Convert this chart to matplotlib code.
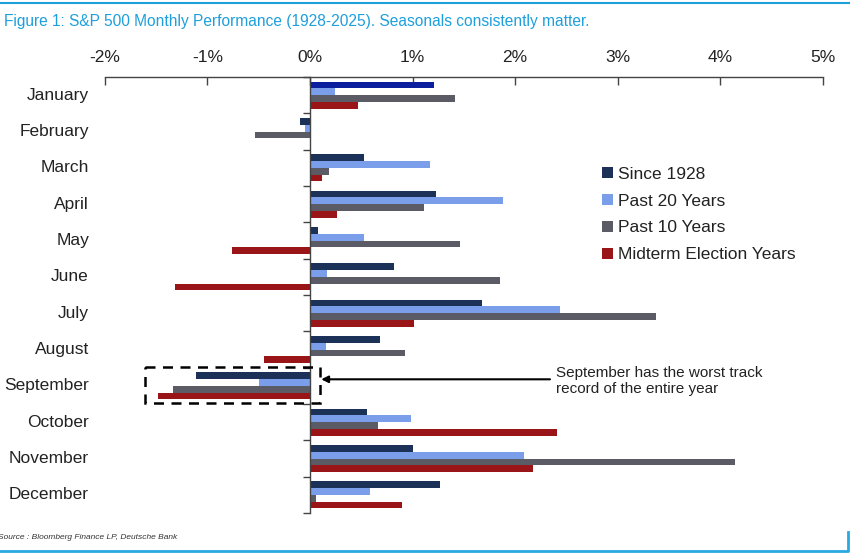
import matplotlib
matplotlib.use("Agg")
import matplotlib.pyplot as plt
import numpy as np
from matplotlib.patches import Rectangle, Patch
from matplotlib.lines import Line2D

plt.rcParams['font.family'] = ['Liberation Sans', 'DejaVu Sans']

months = ["January", "February", "March", "April", "May", "June", "July",
          "August", "September", "October", "November", "December"]
since_1928 = [1.21, -0.10, 0.53, 1.23, 0.08, 0.82, 1.68, 0.68, -1.11, 0.56, 1.00, 1.27]
past_20 = [0.24, -0.05, 1.17, 1.88, 0.53, 0.165, 2.44, 0.16, -0.50, 0.99, 2.09, 0.59]
past_10 = [1.41, -0.54, 0.19, 1.11, 1.46, 1.85, 3.37, 0.93, -1.34, 0.66, 4.14, 0.06]
midterm = [0.47, 0.015, 0.12, 0.26, -0.76, -1.32, 1.01, -0.45, -1.48, 2.41, 2.17, 0.90]
series_names = ["Since 1928", "Past 20 Years", "Past 10 Years", "Midterm Election Years"]
x_ticks = [-2, -1, 0, 1, 2, 3, 4, 5]
x_tick_labels = ["-2%", "-1%", "0%", "1%", "2%", "3%", "4%", "5%"]

colors = ["#1b3157", "#7a9ee9", "#5b5b65", "#9a1518"]
jan_since_color = "#0b1e9e"

fig = plt.figure(figsize=(8.5, 5.6), dpi=100)
ax = fig.add_axes([0.1233, 0.0839, 0.8447, 0.7786])

y = np.arange(len(months))
h = 0.185
all_series = [since_1928, past_20, past_10, midterm]
for i, (vals, name, c) in enumerate(zip(all_series, series_names, colors)):
    cols = [c] * len(months)
    if i == 0:
        cols[0] = jan_since_color
    ax.barh(y + (i - 1.5) * h, vals, height=h, color=cols, label=name,
            edgecolor='none', zorder=2)

ax.set_xlim(-2, 5)
ax.set_ylim(11.5, -0.5)

# top axis
ax.xaxis.tick_top()
ax.set_xticks(x_ticks)
ax.set_xticklabels(x_tick_labels, fontsize=12.5, color="#222222")
ax.tick_params(axis='x', direction='in', length=6, width=1, color="#444444", pad=9)
for s in ['right', 'bottom']:
    ax.spines[s].set_visible(False)
ax.spines['top'].set_color("#444444")
ax.spines['top'].set_linewidth(1)
ax.spines['left'].set_position(('data', 0))
ax.spines['left'].set_color("#444444")
ax.spines['left'].set_linewidth(1)
ax.set_yticks(y)
ax.set_yticklabels([])
ax.tick_params(axis='y', which='major', length=0)
ax.set_yticks(np.arange(-0.5, 12, 1.0), minor=True)
ax.tick_params(axis='y', which='minor', direction='out', length=5, width=1, color="#444444")

for yi, m in zip(y, months):
    ax.text(-0.022, yi, m, transform=ax.get_yaxis_transform(), ha='right', va='center',
            fontsize=12.5, color="#222222")

# legend
handles = [Patch(facecolor=c, edgecolor='none', label=n) for c, n in zip(colors, series_names)]
leg = ax.legend(handles=handles, loc='upper left', bbox_to_anchor=(0.683, 0.81), frameon=False,
                fontsize=12.5, handlelength=0.6, handleheight=0.6, handletextpad=0.3,
                labelspacing=0.68, borderaxespad=0)
for t in leg.get_texts():
    t.set_color("#222222")

# September highlight box
ax.add_patch(Rectangle((-1.61, 7.48), 1.71, 0.99, fill=False, edgecolor='black',
                       linewidth=1.8, linestyle=(0, (4, 3)), zorder=3, clip_on=False))
ax.annotate("", xy=(0.11, 7.82), xytext=(2.34, 7.82),
            arrowprops=dict(arrowstyle='-|>', color='black', lw=1.5,
                            mutation_scale=10, shrinkA=0, shrinkB=0))
ax.text(2.40, 7.87, "September has the worst track\nrecord of the entire year",
        ha='left', va='center', fontsize=11, color="#222222", linespacing=1.25)

# title, source and frame lines
fig.text(0.005, 0.962, "Figure 1: S&P 500 Monthly Performance (1928-2025). Seasonals consistently matter.",
         fontsize=11.2, color="#1e9fdc", ha='left', va='center')
fig.text(-0.002, 0.041, "Source : Bloomberg Finance LP, Deutsche Bank", fontsize=6,
         style='italic', color="#333333", ha='left', va='center')
fig.add_artist(Line2D([0, 1], [0.994, 0.994], transform=fig.transFigure,
                      color="#1e9fdc", lw=1.5))
fig.add_artist(Line2D([0, 0.9976, 0.9976], [0.016, 0.016, 0.05], transform=fig.transFigure,
                      color="#2aa8e0", lw=2))

fig.savefig("out.png", dpi=100)
